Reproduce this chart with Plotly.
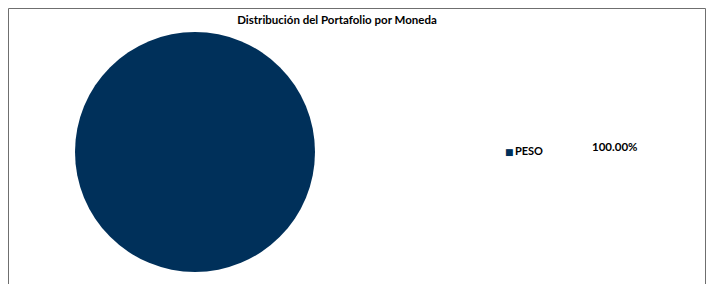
import plotly.graph_objects as go

# page has an 8px body margin; figure is sized/offset to compensate
OFF = 8
W, H = 706, 276
labels = ["PESO"]
values = [100.0]
pct_labels = ["100.00%"]
colors = ["#00305A"]

def px(x):
    return (x - OFF) / W

def py(y):
    return 1 - (y - OFF) / H

fig = go.Figure()
fig.add_trace(go.Pie(
    labels=labels, values=values, marker=dict(colors=colors, line=dict(width=0)),
    textinfo="none", hoverinfo="label+percent", sort=False,
    domain=dict(x=[px(75), px(315)], y=[py(272), py(32)]),
    showlegend=False,
))

font = "Lato, 'Open Sans', Arial, sans-serif"
fig.update_layout(
    width=W, height=H,
    margin=dict(l=0, r=0, t=0, b=0),
    paper_bgcolor="white", plot_bgcolor="white",
    title=dict(text="<b>Distribución del Portafolio por Moneda</b>", x=px(337), xanchor="center",
               y=py(20), yanchor="middle", font=dict(family=font, size=11.5, color="#000000")),
)

# legend entry (marker + label) built from the data arrays
fig.add_annotation(x=px(503), y=py(150), xref="paper", yref="paper",
                   text="<span style='color:" + colors[0] + ";font-size:9px;font-family:DejaVu Sans'>■</span><b>\u2009" + labels[0] + "</b>",
                   showarrow=False, font=dict(family=font, size=11, color="#000000"),
                   xanchor="left", yanchor="middle")

fig.add_annotation(x=px(615), y=py(146), xref="paper", yref="paper",
                   text="<b>" + pct_labels[0] + "</b>", showarrow=False,
                   font=dict(family=font, size=11.5, color="#000000"),
                   xanchor="center", yanchor="middle")

# frame (open at bottom)
top = OFF + 0.5
for (x0, y0, x1, y1) in [(8.5, 284, 8.5, top), (8.5, top, 705.5, top), (705.5, top, 705.5, 284)]:
    fig.add_shape(type="line", xref="paper", yref="paper",
                  x0=px(x0), y0=py(y0), x1=px(x1), y1=py(y1),
                  line=dict(color="#6f6f6f", width=1))

fig.write_html("out.html")
